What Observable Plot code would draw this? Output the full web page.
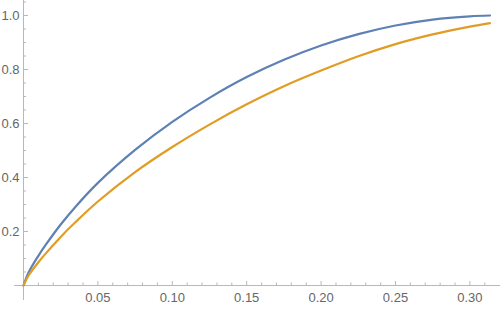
<!DOCTYPE html>
<html>
<head>
<meta charset="utf-8">
<script src="https://cdn.jsdelivr.net/npm/d3@7"></script>
<script src="https://cdn.jsdelivr.net/npm/@observablehq/plot@0.6"></script>
<style>
  html, body { margin: 0; padding: 0; background: #fff; }
</style>
</head>
<body>
<div id="chart"></div>
<script>
// x positions
const xs = [0, 0.0035, 0.01, 0.015, 0.025, 0.035, 0.05, 0.075, 0.1, 0.125, 0.15, 0.175, 0.2, 0.225, 0.25, 0.275, 0.3, 0.3135];
// blue curve values
const blueValues = [0, 0.049, 0.11, 0.151, 0.226, 0.292, 0.38, 0.502, 0.606, 0.695, 0.772, 0.836, 0.889, 0.931, 0.963, 0.985, 0.997, 1.0];
// orange curve values
const orangeValues = [0, 0.038, 0.086, 0.119, 0.18, 0.235, 0.311, 0.42, 0.513, 0.596, 0.671, 0.738, 0.796, 0.849, 0.894, 0.930, 0.959, 0.972];

const xTicks = [0.05, 0.10, 0.15, 0.20, 0.25, 0.30];
const xTickLabels = ["0.05", "0.10", "0.15", "0.20", "0.25", "0.30"];
const xMinorTicks = [0.01, 0.02, 0.03, 0.04, 0.06, 0.07, 0.08, 0.09, 0.11, 0.12, 0.13, 0.14, 0.16, 0.17, 0.18, 0.19, 0.21, 0.22, 0.23, 0.24, 0.26, 0.27, 0.28, 0.29, 0.31];
const yTicks = [0.2, 0.4, 0.6, 0.8, 1.0];
const yTickLabels = ["0.2", "0.4", "0.6", "0.8", "1.0"];
const yMinorTicks = [0.05, 0.1, 0.15, 0.25, 0.3, 0.35, 0.45, 0.5, 0.55, 0.65, 0.7, 0.75, 0.85, 0.9, 0.95, 1.05];

const blue = xs.map((x, i) => ({x, y: blueValues[i]}));
const orange = xs.map((x, i) => ({x, y: orangeValues[i]}));
const xT = xTicks.map((x, i) => ({x, label: xTickLabels[i]}));
const yT = yTicks.map((y, i) => ({y, label: yTickLabels[i]}));

const W = 500, H = 309;
// pixel geometry
const x0px = 23, pxPerX = 1488;
const y0px = 285, pxPerY = 270;
const xDomain = [(0 - x0px) / pxPerX, (W - x0px) / pxPerX];
const yDomain = [(y0px - H) / pxPerY, y0px / pxPerY];

const axisColor = "#b8b8b8";
const tickColor = "#b8b8b8";
const labelColor = "#666666";

const majX = 4 / pxPerY, minX = 2.5 / pxPerY;
const majY = 5 / pxPerX, minY = 3 / pxPerX;

const chart = Plot.plot({
  width: W,
  height: H,
  margin: 0,
  x: {domain: xDomain, range: [0, W], axis: null},
  y: {domain: yDomain, range: [H, 0], axis: null},
  style: {fontFamily: "'Liberation Sans', Arial, sans-serif", fontSize: "13px", background: "#fff"},
  marks: [
    // axes
    Plot.ruleY([0], {x1: -9 / pxPerX, x2: xDomain[1], stroke: axisColor, strokeWidth: 1}),
    Plot.ruleX([0], {y1: -15 / pxPerY, y2: yDomain[1], stroke: axisColor, strokeWidth: 1}),
    // x ticks
    Plot.ruleX(xTicks, {x: d => d, y1: 0, y2: majX, stroke: tickColor}),
    Plot.ruleX(xMinorTicks, {x: d => d, y1: 0, y2: minX, stroke: tickColor}),
    // y ticks
    Plot.ruleY(yTicks, {y: d => d, x1: 0, x2: majY, stroke: tickColor}),
    Plot.ruleY(yMinorTicks, {y: d => d, x1: 0, x2: minY, stroke: tickColor}),
    // labels
    Plot.text(xT, {x: "x", y: 0, text: "label", dy: 12, lineAnchor: "middle", fill: labelColor}),
    Plot.text(yT, {x: 0, y: "y", text: "label", dx: -4, textAnchor: "end", lineAnchor: "middle", fill: labelColor}),
    // curves
    Plot.line(blue, {x: "x", y: "y", stroke: "#5E81B5", strokeWidth: 2.2, curve: "catmull-rom"}),
    Plot.line(orange, {x: "x", y: "y", stroke: "#E19C24", strokeWidth: 2.2, curve: "catmull-rom"})
  ]
});
document.getElementById("chart").appendChild(chart);
</script>
</body>
</html>
